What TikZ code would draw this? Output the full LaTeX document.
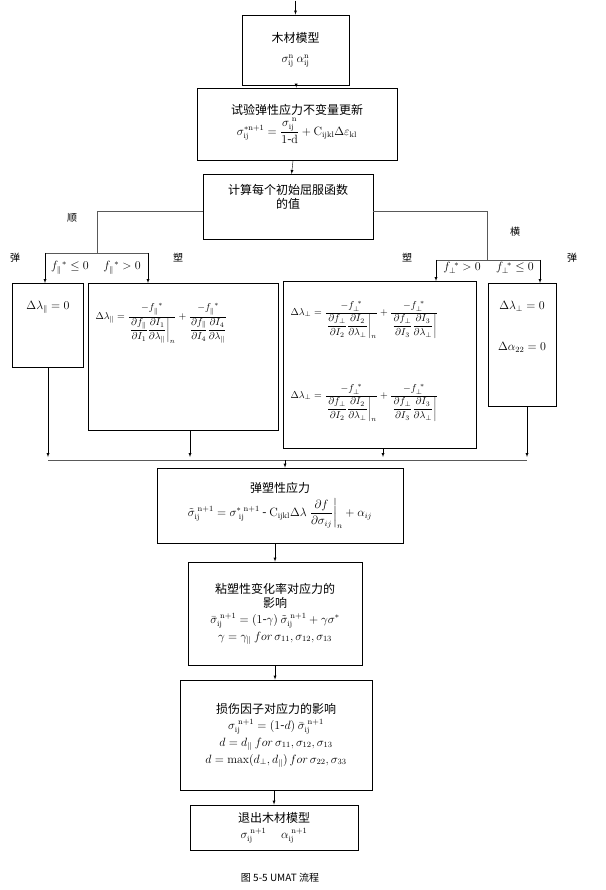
\documentclass[tikz,border=0pt]{standalone}
\usepackage{amsmath}
\usepackage{fontspec}
\newfontfamily\cjk{Noto Sans CJK SC}
\usetikzlibrary{calc}
\tikzset{
  box/.style={draw,thick,align=center,inner sep=2pt,font=\cjk\large},
  lab/.style={font=\cjk\normalsize},
  arr/.style={-latex,thin},
  ln/.style={thin,gray!70!black}
}
\newcommand{\pl}{\parallel}
\begin{document}
\begin{tikzpicture}[x=1pt,y=-1pt]
            \useasboundingbox (0,0) rectangle (605,890);
            % upper boxes
            \node[box,minimum width=107,minimum height=70] (model) at (295.5,50) {木材模型\\[6pt] $\sigma^{\mathrm{n}}_{\mathrm{ij}}\ \alpha^{\mathrm{n}}_{\mathrm{ij}}$};
            \node[box,minimum width=200,minimum height=72] (trial) at (297,124) {试验弹性应力不变量更新\\[2pt] $\sigma_{\mathrm{ij}}^{*\mathrm{n+1}}=\dfrac{\sigma_{\mathrm{ij}}^{\ \mathrm{n}}}{1\text{-}\mathrm{d}}+\mathrm{C_{ijkl}}\Delta\varepsilon_{\mathrm{kl}}$};
            \node[box,minimum width=170,minimum height=65,anchor=north] (yield) at (288,174) {计算每个初始屈服函数\\的值\\[6pt]\ };
            % branch boxes
            \node[box,minimum width=71,minimum height=84,anchor=north west] (eL) at (12,283) {};
            \node[font=\large] at (48,307) {$\Delta\lambda_{\pl}=0$};
            \node[box,minimum width=190,minimum height=147,anchor=north west] (pL) at (88,283) {};
            \node[font=\normalsize,anchor=north west] at (92,300) {$\Delta\lambda_{\pl}=\dfrac{-f_{\pl}^{\ *}}{\left.\dfrac{\partial f_{\pl}}{\partial I_1}\dfrac{\partial I_1}{\partial\lambda_{\pl}}\right|_n}+\dfrac{-f_{\pl}^{\ *}}{\dfrac{\partial f_{\pl}}{\partial I_4}\dfrac{\partial I_4}{\partial\lambda_{\pl}}}$};
            \node[box,minimum width=193,minimum height=167,anchor=north west] (pR) at (283,281) {};
            \node[font=\normalsize,anchor=north west] at (287,298) {$\Delta\lambda_{\perp}=\dfrac{-f_{\perp}^{\ *}}{\left.\dfrac{\partial f_{\perp}}{\partial I_2}\dfrac{\partial I_2}{\partial\lambda_{\perp}}\right|_n}+\dfrac{-f_{\perp}^{\ *}}{\left.\dfrac{\partial f_{\perp}}{\partial I_3}\dfrac{\partial I_3}{\partial\lambda_{\perp}}\right|}$};
            \node[font=\normalsize,anchor=north west] at (287,381) {$\Delta\lambda_{\perp}=\dfrac{-f_{\perp}^{\ *}}{\left.\dfrac{\partial f_{\perp}}{\partial I_2}\dfrac{\partial I_2}{\partial\lambda_{\perp}}\right|_n}+\dfrac{-f_{\perp}^{\ *}}{\left.\dfrac{\partial f_{\perp}}{\partial I_3}\dfrac{\partial I_3}{\partial\lambda_{\perp}}\right|}$};
            \node[box,minimum width=68,minimum height=123,anchor=north west] (eR) at (488,283) {};
            \node[font=\large] at (522,306) {$\Delta\lambda_{\perp}=0$};
            \node[font=\large] at (522,347) {$\Delta\alpha_{22}=0$};
            % lower boxes
            \node[box,minimum width=246,minimum height=75] (ep) at (280,505.5) {弹塑性应力\\[4pt] $\tilde\sigma_{\mathrm{ij}}^{\ \mathrm{n+1}}=\sigma^{*\ \mathrm{n+1}}_{\ \mathrm{ij}}\text{ - }\mathrm{C_{ijkl}}\Delta\lambda\left.\dfrac{\partial f}{\partial\sigma_{ij}}\right|_{n}+\alpha_{ij}$};
            \node[box,minimum width=174,minimum height=103] (visc) at (275,613.5) {粘塑性变化率对应力的\\影响\\[2pt] $\bar\sigma_{\mathrm{ij}}^{\ \mathrm{n+1}}=(1\text{-}\gamma)\ \tilde\sigma_{\mathrm{ij}}^{\ \mathrm{n+1}}+\gamma\sigma^{*}$\\[3pt] $\gamma=\gamma_{\pl}\ for\,\sigma_{11},\sigma_{12},\sigma_{13}$};
            \node[box,minimum width=192,minimum height=110] (dmg) at (276,735) {损伤因子对应力的影响\\[2pt] $\sigma_{\mathrm{ij}}^{\ \mathrm{n+1}}=(1\text{-}d)\ \bar\sigma_{\mathrm{ij}}^{\ \mathrm{n+1}}$\\[3pt] $d=d_{\pl}\ for\,\sigma_{11},\sigma_{12},\sigma_{13}$\\[3pt] $d=\max(d_{\perp},d_{\pl})\,for\,\sigma_{22},\sigma_{33}$};
            \node[box,minimum width=168,minimum height=45] (exit) at (274,827.5) {退出木材模型\\[2pt] $\sigma_{\mathrm{ij}}^{\ \mathrm{n+1}}\quad\ \alpha_{\mathrm{ij}}^{\ \mathrm{n+1}}$};
            \node[font=\cjk\normalsize] (cap) at (280,878) {图 5-5 UMAT 流程};
            % labels
            \node[lab] at (72,218) {顺};
            \node[lab] at (515,232) {横};
            \node[lab] at (15,258) {弹};
            \node[lab] at (178,258) {塑};
            \node[lab] at (407,258) {塑};
            \node[lab] at (572,258) {弹};
            \node[font=\large] at (70,268) {$f_{\pl}^{\ *}\le0$};
            \node[font=\large] at (122,268) {$f_{\pl}^{\ *}>0$};
            \node[font=\large] at (462,268) {$f_{\perp}^{\ *}>0$};
            \node[font=\large] at (515,268) {$f_{\perp}^{\ *}\le0$};
            % connectors
            \draw[arr] ($(model.north)+(0,-14)$) -- (model.north);
            \draw[arr] (model) -- (trial);
            \draw[arr] (trial) -- (yield);
            \coordinate (lb) at (97,253);
            \coordinate (rb) at (487,260);
            \draw[ln] (yield.west |- 0,211) -| (lb);
            \draw[ln] (yield.east |- 0,211) -| (rb);
            \draw[ln] (45,253) -- (148,253);
            \draw[ln] (436,260) -- (540,260);
            \draw[arr] (45,253) -- (45,283);
            \draw[arr] (148,253) -- (148,283);
            \draw[arr] (436,260) -- (436,281);
            \draw[arr] (540,260) -- (540,283);
            \coordinate (jn) at (285,460);
            \draw[ln] (48,460) -- (527,460);
            \draw[arr] (eL.south -| 48,0) -- (48,457);
            \draw[arr] (pL.south -| 190,0) -- (190,457);
            \draw[arr] (pR.south -| 383,0) -- (383,457);
            \draw[arr] (eR.south -| 527,0) -- (527,457);
            \draw[arr] (jn) -- (ep.north -| jn);
            \draw[arr] (ep.south -| visc.north) -- (visc.north);
            \draw[arr] (visc.south) -- (dmg.north -| visc.south);
            \draw[arr] (dmg.south -| exit.north) -- (exit.north);
\end{tikzpicture}
\end{document}
